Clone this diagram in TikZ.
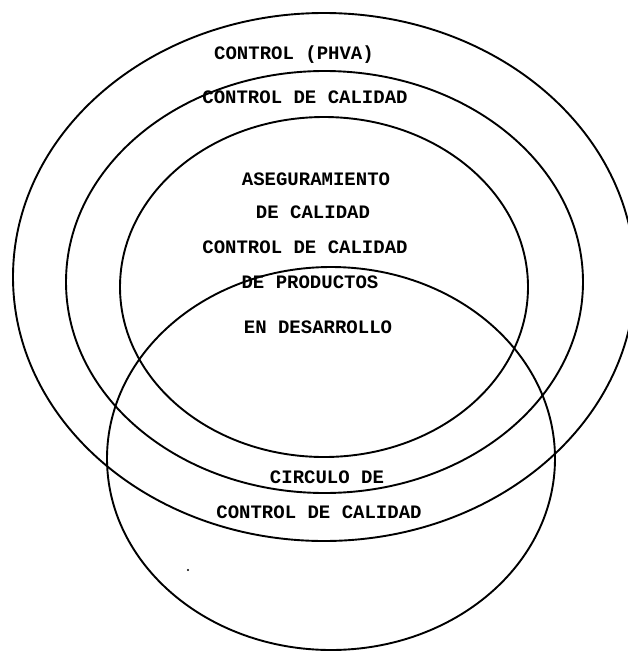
\documentclass[tikz,border=0pt]{standalone}
\usepackage{fontspec}
\setmonofont{Liberation Mono}

\begin{document}
\begin{tikzpicture}[
    x = 1pt, y = -1pt,
    ring/.style = {draw, line width = 1.9pt},
    caption/.style = {font = \fontsize{19}{22}\selectfont\ttfamily\bfseries,
      inner sep = 0pt, text height = 11pt, text depth = 0pt},
  ]
  \useasboundingbox (0,0) rectangle (628,651);

  % Rings, from outside in
  \draw[ring] (324,277) ellipse [x radius = 311pt, y radius = 264pt];
  \draw[ring] (324.5,282) ellipse [x radius = 258.5pt, y radius = 211pt];
  \draw[ring] (324,287) ellipse [x radius = 204pt, y radius = 170pt];
  \draw[ring] (331,458.5) ellipse [x radius = 224pt, y radius = 191.5pt];

  % Texts
  \node[caption] (phva) at (294,54) {CONTROL (PHVA)};
  \node[caption] (cc) at (305,98) {CONTROL DE CALIDAD};
  \node[caption] (aseg) at (316,180) {ASEGURAMIENTO};
  \node[caption] (aseg2) at (313,213) {DE CALIDAD};
  \node[caption] (ccp) at (305,248) {CONTROL DE CALIDAD};
  \node[caption] (ccp2) at (310,283) {DE PRODUCTOS};
  \node[caption] (ccp3) at (318,328) {EN DESARROLLO};
  \node[caption] (circ) at (327,478) {CIRCULO DE};
  \node[caption] (circ2) at (319,513) {CONTROL DE CALIDAD};

  \fill (188,570) circle [radius = 1.2pt];
\end{tikzpicture}
\end{document}
